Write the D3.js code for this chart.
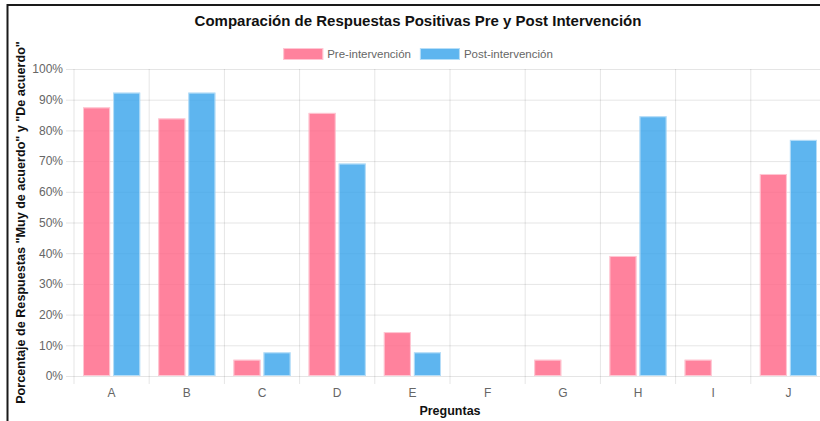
<!DOCTYPE html>
<html>
<head>
<meta charset="utf-8">
<script src="https://cdn.jsdelivr.net/npm/d3@7/dist/d3.min.js"></script>
<style>
  html, body { margin: 0; padding: 0; background: #fff; }
  svg { display: block; font-family: "Liberation Sans", Arial, Helvetica, sans-serif; }
</style>
</head>
<body>
<svg id="chart" width="820" height="421"></svg>
<script>
// Questions and the share of "Muy de acuerdo" + "De acuerdo" answers (%)
const categories = ["A", "B", "C", "D", "E", "F", "G", "H", "I", "J"];
const preValues  = [87.5, 83.9, 5.3, 85.7, 14.3, 0, 5.3, 39.1, 5.3, 65.8];
const postValues = [92.3, 92.3, 7.7, 69.2, 7.7, 0, 0, 84.6, 0, 76.9];
const seriesNames = ["Pre-intervención", "Post-intervención"];
const yTicks = [0, 10, 20, 30, 40, 50, 60, 70, 80, 90, 100];

const title = "Comparación de Respuestas Positivas Pre y Post Intervención";
const yTitle = 'Porcentaje de Respuestas "Muy de acuerdo" y "De acuerdo"';
const xTitle = "Preguntas";

const fills = ["rgba(255, 99, 132, 0.8)", "rgba(54, 162, 235, 0.8)"];
const edge = "rgba(255, 255, 255, 0.55)";
const gridColor = "rgba(0, 0, 0, 0.1)";
const tickColor = "#666";

const svg = d3.select("#chart");

// Plot area (the canvas runs past the right edge of the view)
const plot = { left: 74, right: 826, top: 69, bottom: 376 };
const centerX = 418;

const x = d3.scaleBand().domain(categories).range([plot.left, plot.right]).padding(0);
const bw = x.bandwidth();
const xInner = d3.scaleBand().domain(seriesNames)
  .range([0.1 * bw, 0.9 * bw]).paddingInner(0.1).paddingOuter(0.05);
const y = d3.scaleLinear().domain([0, 100]).range([plot.bottom, plot.top]);

// Frame around the chart
svg.append("path")
  .attr("d", "M7.5,421 V5 H820")
  .attr("fill", "none")
  .attr("stroke", "#1a1a1a")
  .attr("stroke-width", 2);

// Horizontal grid + y axis ticks
const yAxis = d3.axisLeft(y).tickValues(yTicks).tickFormat(d => d + "%")
  .tickSize(plot.right - plot.left + 8).tickPadding(4);
const gy = svg.append("g").attr("transform", `translate(${plot.right},0)`).call(yAxis);
gy.select(".domain").remove();
gy.selectAll(".tick line").attr("stroke", gridColor);
gy.selectAll(".tick text").attr("fill", tickColor).attr("font-size", 12)
  .attr("x", -(plot.right - plot.left + 8) - 3);

// Vertical grid at category boundaries, extending below the axis as ticks
const bounds = d3.range(categories.length + 1).map(i => plot.left + i * bw);
svg.append("g").selectAll("line").data(bounds).join("line")
  .attr("x1", d => d).attr("x2", d => d)
  .attr("y1", plot.top).attr("y2", plot.bottom + 8)
  .attr("stroke", gridColor);

// x axis labels
const xAxis = d3.axisBottom(x).tickSize(0).tickPadding(10);
const gx = svg.append("g").attr("transform", `translate(0,${plot.bottom})`).call(xAxis);
gx.select(".domain").remove();
gx.selectAll(".tick text").attr("fill", tickColor).attr("font-size", 12).attr("dy", "0.95em");

// Bars
const series = [preValues, postValues];
series.forEach((vals, si) => {
  const g = svg.append("g");
  const data = categories.map((c, i) => ({ c, v: vals[i] })).filter(d => d.v > 0);
  g.selectAll("rect.fill").data(data).join("rect")
    .attr("class", "fill")
    .attr("x", d => x(d.c) + xInner(seriesNames[si]))
    .attr("y", d => y(d.v))
    .attr("width", xInner.bandwidth())
    .attr("height", d => y(0) - y(d.v))
    .attr("fill", fills[si]);
  g.selectAll("rect.edge").data(data).join("rect")
    .attr("class", "edge")
    .attr("x", d => x(d.c) + xInner(seriesNames[si]) + 0.5)
    .attr("y", d => y(d.v) + 0.5)
    .attr("width", xInner.bandwidth() - 1)
    .attr("height", d => Math.max(0, y(0) - y(d.v) - 1))
    .attr("fill", "none")
    .attr("stroke", edge);
});

// Title
svg.append("text")
  .attr("x", centerX).attr("y", 26)
  .attr("text-anchor", "middle")
  .attr("font-size", 15).attr("font-weight", "bold").attr("fill", "#111")
  .text(title);

// Legend
const legend = svg.append("g");
let lx = 0;
seriesNames.forEach((name, i) => {
  const item = legend.append("g").attr("transform", `translate(${lx},0)`);
  item.append("rect").attr("x", 0).attr("y", 48).attr("width", 40).attr("height", 12)
    .attr("fill", fills[i]);
  item.append("rect").attr("x", 0.5).attr("y", 48.5).attr("width", 39).attr("height", 11)
    .attr("fill", "none").attr("stroke", edge);
  const t = item.append("text").attr("x", 44).attr("y", 58)
    .attr("font-size", 11.5).attr("fill", tickColor).text(name);
  lx += 44 + t.node().getComputedTextLength() + 9;
});
const legendW = lx - 9;
legend.attr("transform", `translate(${centerX - legendW / 2},0)`);

// Axis titles
svg.append("text")
  .attr("transform", `translate(25,${(plot.top + plot.bottom) / 2}) rotate(-90)`)
  .attr("text-anchor", "middle")
  .attr("font-size", 12.6).attr("font-weight", "bold").attr("fill", "#111")
  .text(yTitle);

svg.append("text")
  .attr("x", (plot.left + plot.right) / 2).attr("y", 415)
  .attr("text-anchor", "middle")
  .attr("font-size", 12.5).attr("font-weight", "bold").attr("fill", "#111")
  .text(xTitle);
</script>
</body>
</html>
